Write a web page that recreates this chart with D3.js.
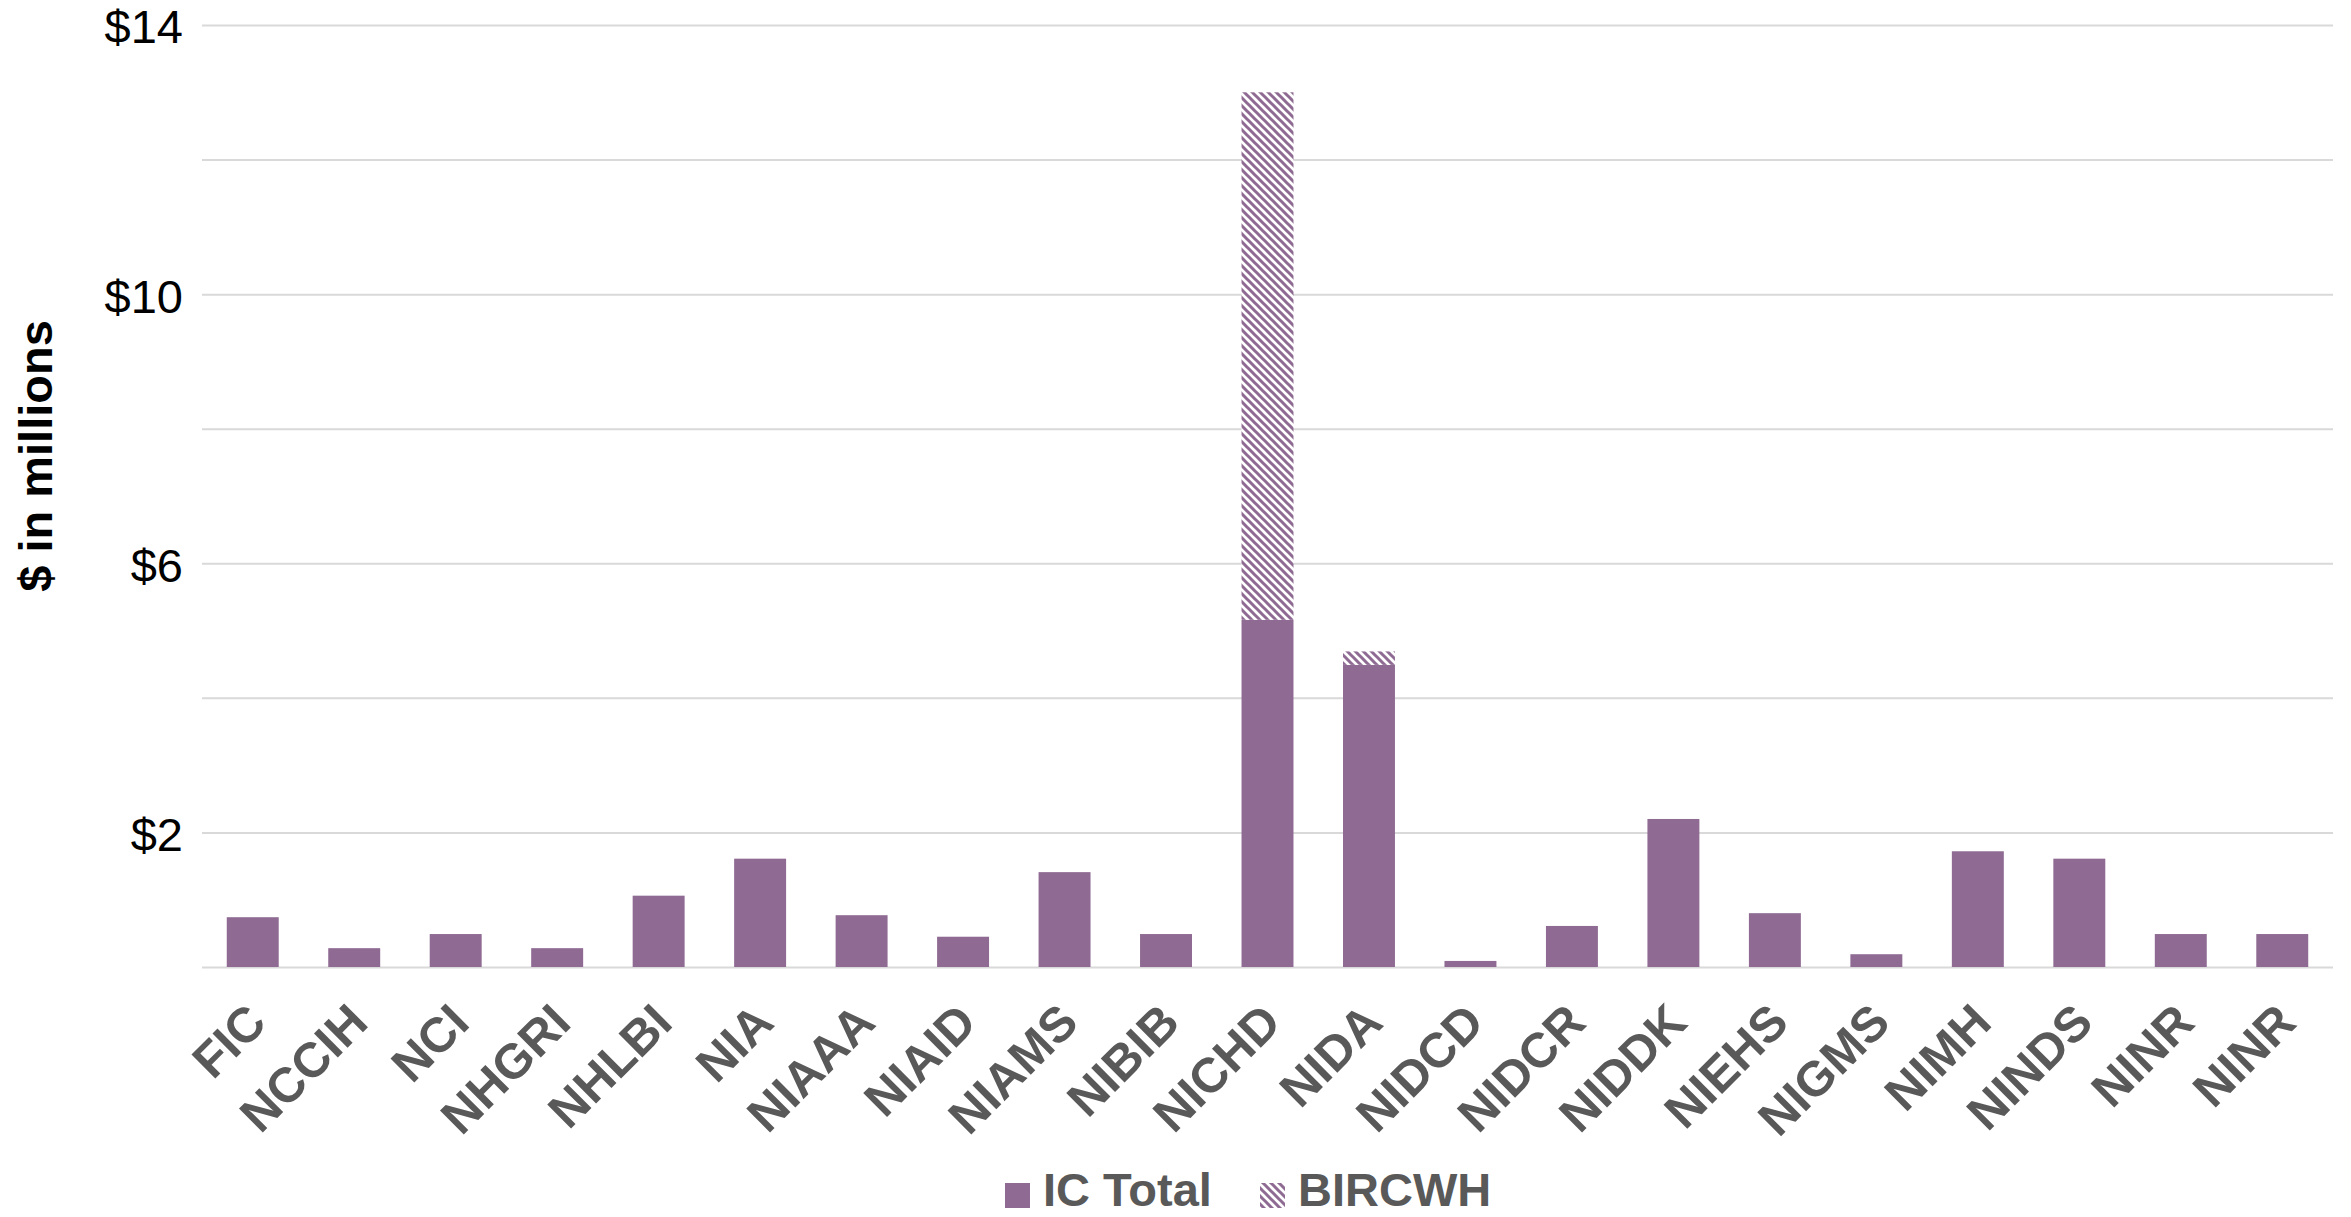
<!DOCTYPE html>
<html lang="en">
<head>
    <meta charset="UTF-8">
    <script src="https://d3js.org/d3.v7.min.js"></script>
    <title>IC Total and BIRCWH funding</title>
    <style>
        body { margin: 0; background: #fff; }
        svg { display: block; }
    </style>
</head>
<body>
    <div id="chart"></div>
    <script>
        // institutes (NINR shows up twice in the source chart)
        var categories = ["FIC", "NCCIH", "NCI", "NHGRI", "NHLBI", "NIA", "NIAAA", "NIAID", "NIAMS", "NIBIB",
                          "NICHD", "NIDA", "NIDCD", "NIDCR", "NIDDK", "NIEHS", "NIGMS", "NIMH", "NINDS", "NINR", "NINR"];
        var icTotal = [0.74, 0.28, 0.49, 0.28, 1.06, 1.61, 0.77, 0.45, 1.41, 0.49,
                       5.16, 4.49, 0.09, 0.61, 2.20, 0.80, 0.19, 1.72, 1.61, 0.49, 0.49];
        var bircwh = [0, 0, 0, 0, 0, 0, 0, 0, 0, 0,
                      7.84, 0.20, 0, 0, 0, 0, 0, 0, 0, 0, 0];
        var seriesNames = ["IC Total", "BIRCWH"];
        var yLabelTicks = [2, 6, 10, 14];
        var yGridTicks = [0, 2, 4, 6, 8, 10, 12, 14];

        var width = 2351, height = 1217;
        var margin = {top: 25, right: 18, bottom: 250, left: 202};
        var purple = "#8f6b93";
        var gray = "#595959";

        var data = categories.map((c, i) => ({idx: i, name: c, "IC Total": icTotal[i], "BIRCWH": bircwh[i]}));
        var series = d3.stack().keys(seriesNames)(data);

        var svg = d3.select("#chart").append("svg")
            .attr("width", width)
            .attr("height", height)
            .style("font-family", "'Liberation Sans', Arial, sans-serif");

        // hatch for BIRCWH
        var pat = svg.append("defs").append("pattern")
            .attr("id", "hatch")
            .attr("patternUnits", "userSpaceOnUse")
            .attr("width", 8).attr("height", 8);
        pat.append("rect").attr("width", 8).attr("height", 8).attr("fill", "#fff");
        pat.append("path")
            .attr("d", "M-2,-2L10,10M-2,6L2,10M6,-2L10,2")
            .attr("stroke", purple)
            .attr("stroke-width", 3);

        var x = d3.scaleBand()
            .domain(data.map(d => d.idx))
            .range([margin.left, width - margin.right])
            .paddingInner(0.488)
            .paddingOuter(0.244);

        var y = d3.scaleLinear()
            .domain([0, 14])
            .range([967, margin.top]);

        // gridlines
        svg.append("g")
            .attr("transform", `translate(${margin.left},0)`)
            .call(d3.axisLeft(y).tickValues(yGridTicks).tickSize(-(width - margin.right - margin.left)).tickFormat(""))
            .call(g => g.select(".domain").remove())
            .call(g => g.selectAll(".tick line").attr("stroke", "#d9d9d9").attr("stroke-width", 2));

        // y labels
        svg.append("g")
            .attr("transform", `translate(${margin.left},0)`)
            .call(d3.axisLeft(y).tickValues(yLabelTicks).tickSize(0).tickPadding(19).tickFormat(d => "$" + d))
            .call(g => g.select(".domain").remove())
            .call(g => g.selectAll("text")
                .attr("font-family", "'Liberation Sans', Arial, sans-serif")
                .attr("font-size", 47)
                .attr("fill", "#000")
                .attr("dy", "0.38em"));

        svg.append("text")
            .attr("transform", "translate(52,456) rotate(-90)")
            .attr("text-anchor", "middle")
            .attr("font-size", 47)
            .attr("font-weight", "bold")
            .attr("fill", "#000")
            .text("$ in millions");

        // bars
        svg.append("g")
            .selectAll("g")
            .data(series)
            .join("g")
            .attr("fill", d => d.key === "BIRCWH" ? "url(#hatch)" : purple)
            .selectAll("rect")
            .data(d => d.filter(v => v[1] - v[0] > 0))
            .join("rect")
            .attr("x", d => x(d.data.idx))
            .attr("y", d => y(d[1]))
            .attr("width", x.bandwidth())
            .attr("height", d => y(d[0]) - y(d[1]));

        // x labels
        svg.append("g")
            .attr("transform", "translate(0,967)")
            .call(d3.axisBottom(x).tickSize(0).tickFormat(i => categories[i]))
            .call(g => g.select(".domain").remove())
            .call(g => g.selectAll("text")
                .attr("font-family", "'Liberation Sans', Arial, sans-serif")
                .attr("font-size", 49)
                .attr("font-weight", "bold")
                .attr("fill", gray)
                .attr("text-anchor", "end")
                .attr("dy", 0)
                .attr("y", 0)
                .attr("transform", "translate(16,58) rotate(-45)"));

        // legend (sits at the very bottom edge, like the original)
        var legendX = [1005, 1260];
        var legend = svg.append("g");
        seriesNames.forEach((s, i) => {
            legend.append("rect")
                .attr("x", legendX[i]).attr("y", 1183)
                .attr("width", 25).attr("height", 25)
                .attr("fill", s === "BIRCWH" ? "url(#hatch)" : purple);
            legend.append("text")
                .attr("x", legendX[i] + 38).attr("y", 1206)
                .attr("font-size", 47)
                .attr("font-weight", "bold")
                .attr("fill", gray)
                .text(s);
        });
    </script>
</body>
</html>
